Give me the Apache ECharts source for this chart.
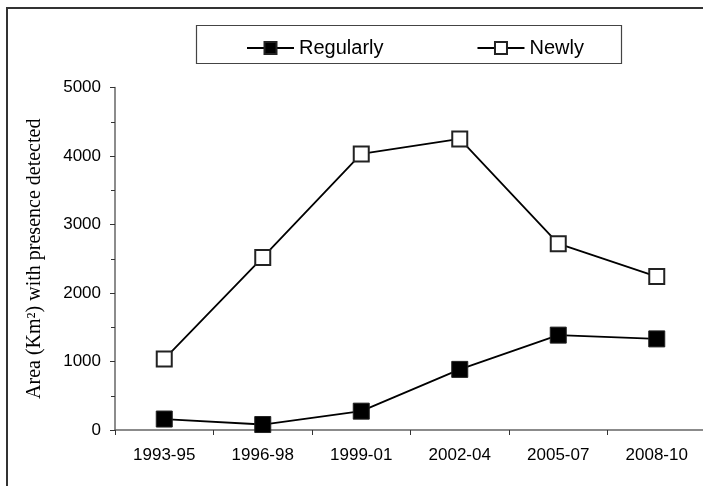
<!DOCTYPE html>
<html>
<head>
<meta charset="utf-8">
<script src="https://cdn.jsdelivr.net/npm/echarts@6/dist/echarts.min.js"></script>
<style>
  html, body { margin: 0; padding: 0; background: #fff; }
  #main { width: 703px; height: 486px; }
</style>
</head>
<body>
<div id="main"></div>
<script>
var periods = ['1993-95', '1996-98', '1999-01', '2002-04', '2005-07', '2008-10'];
var regularly = [160, 80, 275, 885, 1385, 1330];
var newly = [1035, 2520, 4030, 4250, 2720, 2240];
var yTicks = [0, 1000, 2000, 3000, 4000, 5000];

var chart = echarts.init(document.getElementById('main'));
chart.setOption({
    animation: false,
    backgroundColor: '#fff',
    graphic: [
        // outer frame (right / bottom edges fall outside the picture)
        { type: 'rect', shape: { x: 7, y: 8, width: 720, height: 500 },
          style: { fill: 'none', stroke: '#333', lineWidth: 2 }, z: 100 },
        // legend box
        { type: 'rect', shape: { x: 196.5, y: 25.5, width: 425, height: 38 },
          style: { fill: 'none', stroke: '#444', lineWidth: 1.2 }, z: 100 }
    ],
    legend: {
        left: 241,
        top: 33,
        itemWidth: 47,
        itemHeight: 15,
        itemGap: 93,
        textStyle: { fontFamily: 'Arial, Liberation Sans', fontSize: 20, color: '#000' },
        data: ['Regularly', 'Newly']
    },
    grid: {
        left: 115,
        right: -3,
        top: 87.5,
        bottom: 56,
        containLabel: false,
        outerBoundsMode: 'none'
    },
    xAxis: {
        type: 'category',
        data: periods,
        boundaryGap: true,
        axisLine: { lineStyle: { color: '#666', width: 1.5 } },
        axisTick: { show: true, length: 5, lineStyle: { color: '#333' } },
        axisLabel: { color: '#000', fontFamily: 'Arial, Liberation Sans', fontSize: 17, margin: 17 },
        splitLine: { show: false }
    },
    yAxis: {
        type: 'value',
        min: yTicks[0],
        max: yTicks[yTicks.length - 1],
        interval: 1000,
        name: 'Area (Km\u00b2) with presence detected',
        nameLocation: 'middle',
        nameGap: 70,
        nameTextStyle: { fontFamily: 'Times New Roman, Liberation Serif, serif', fontSize: 20, color: '#000' },
        axisLine: { show: true, lineStyle: { color: '#666', width: 1.5 } },
        axisTick: { show: true, length: 5, lineStyle: { color: '#333' } },
        minorTick: { show: true, splitNumber: 2, length: 4, lineStyle: { color: '#333' } },
        axisLabel: {
            color: '#000', fontFamily: 'Arial, Liberation Sans', fontSize: 17, margin: 14,
            formatter: function (v) { return String(v); }
        },
        splitLine: { show: false }
    },
    series: [
        {
            name: 'Regularly',
            type: 'line',
            data: regularly,
            symbol: 'rect',
            symbolSize: 16,
            lineStyle: { color: '#000', width: 1.8 },
            itemStyle: { color: '#000', borderColor: '#222', borderWidth: 1 }
        },
        {
            name: 'Newly',
            type: 'line',
            data: newly,
            symbol: 'rect',
            symbolSize: 15,
            lineStyle: { color: '#000', width: 1.8 },
            itemStyle: { color: '#fff', borderColor: '#222', borderWidth: 2 }
        }
    ]
});
</script>
</body>
</html>
